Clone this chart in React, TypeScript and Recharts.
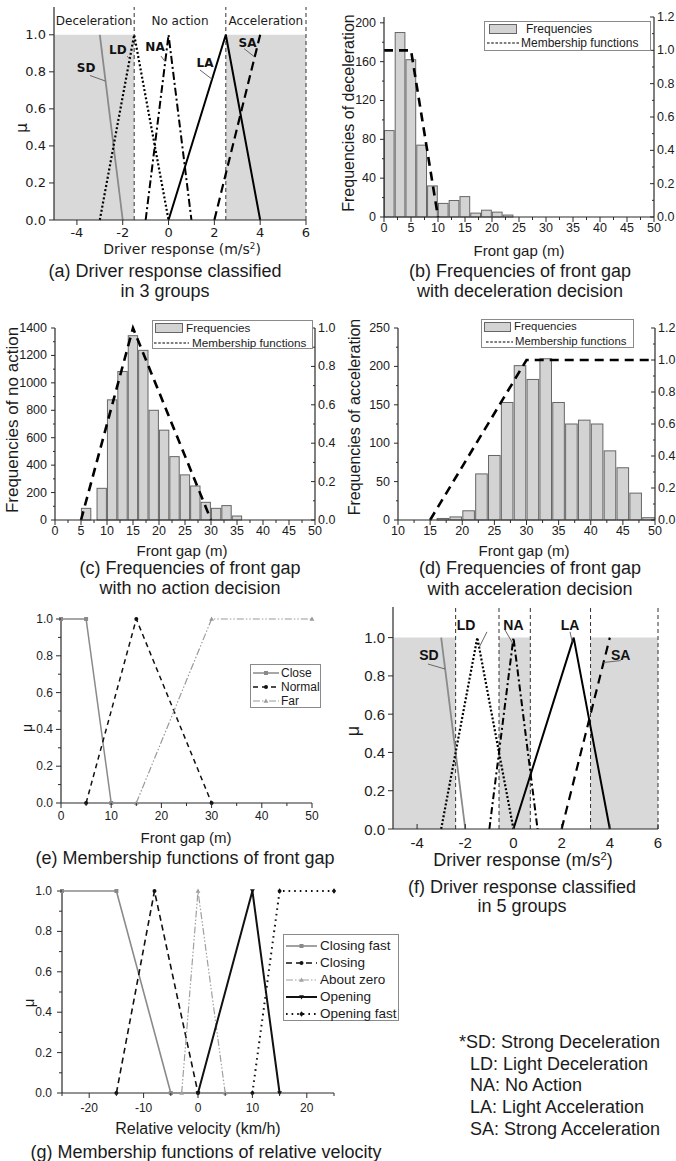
import React from "react";
import { ComposedChart, Line, Bar, XAxis, YAxis, ReferenceArea, ReferenceLine, ReferenceDot } from "recharts";

// ---------- values ----------
const responseTicks = [-4, -2, 0, 2, 4, 6];
const muTicks = [0, 0.2, 0.4, 0.6, 0.8, 1];
const muMinor = [0.1, 0.3, 0.5, 0.7, 0.9];

// driver response membership functions, (a) and (f)
const sdPoints = [[-3, 1], [-2, 0]];
const ldPoints = [[-3, 0], [-1.5, 1], [0, 0]];
const naPoints = [[-1, 0], [0, 1], [1, 0]];
const laPoints = [[0, 0], [2.5, 1], [4, 0]];
const saPoints = [[2, 0], [4, 1]];
const threeGroupNames = ["Deceleration", "No action", "Acceleration"];
const threeGroupEdges = [-5, -1.5, 2.5, 6];
const fiveGroupEdges = [-5, -2.4, -0.6, 0.7, 3.2, 6];

// histograms (b), (c), (d)
const gapTicks = [0, 5, 10, 15, 20, 25, 30, 35, 40, 45, 50];
const gapMinor = [2.5, 7.5, 12.5, 17.5, 22.5, 27.5, 32.5, 37.5, 42.5, 47.5];
const histLegendNames = ["Frequencies", "Membership functions"];
const rightMuTicks = [0, 0.2, 0.4, 0.6, 0.8, 1, 1.2];
const rightMuMinor = [0.1, 0.3, 0.5, 0.7, 0.9, 1.1];

const decelGap = [1, 3, 5, 7, 9, 11, 13, 15, 17, 19, 21, 23];
const decelCount = [89, 190, 162, 74, 32, 14, 17, 21, 4, 7, 5, 2];
const decelTicks = [0, 40, 80, 120, 160, 200];
const decelMinor = [20, 60, 100, 140, 180];
const decelMf = [[0, 1], [5, 1], [10, 0]];

const noActionGap = [6, 9, 11, 13, 15, 17, 19, 21, 23, 25, 27, 29, 31, 33, 35];
const noActionCount = [85, 231, 876, 1083, 1344, 1237, 800, 655, 462, 329, 248, 129, 85, 105, 29];
const noActionTicks = [0, 200, 400, 600, 800, 1000, 1200, 1400];
const noActionMinor = [100, 300, 500, 700, 900, 1100, 1300];
const noActionMf = [[5, 0], [15, 1], [30, 0]];

const accelGapTicks = [10, 15, 20, 25, 30, 35, 40, 45, 50];
const accelGapMinor = [12.5, 17.5, 22.5, 27.5, 32.5, 37.5, 42.5, 47.5];
const accelGap = [17, 19, 21, 23, 25, 27, 29, 31, 33, 35, 37, 39, 41, 43, 45, 47, 49];
const accelCount = [2, 4, 12, 60, 84, 153, 201, 183, 210, 153, 125, 130, 125, 90, 68, 35, 3];
const accelTicks = [0, 50, 100, 150, 200, 250];
const accelMinor = [25, 75, 125, 175, 225];
const accelMf = [[15, 0], [30, 1], [50, 1]];

// front gap membership functions (e)
const gapSetTicks = [0, 10, 20, 30, 40, 50];
const gapSetMinor = [5, 15, 25, 35, 45];
const gapSetNames = ["Close", "Normal", "Far"];
const closePoints = [[0, 1], [5, 1], [10, 0]];
const normalPoints = [[5, 0], [15, 1], [30, 0]];
const farPoints = [[15, 0], [30, 1], [50, 1]];

// relative velocity membership functions (g)
const velocityTicks = [-20, -10, 0, 10, 20];
const velocityMinor = [-25, -15, -5, 5, 15, 25];
const velocitySetNames = ["Closing fast", "Closing", "About zero", "Opening", "Opening fast"];
const closingFastPoints = [[-25, 1], [-15, 1], [-5, 0]];
const closingPoints = [[-15, 0], [-8, 1], [0, 0]];
const aboutZeroPoints = [[-3, 0], [0, 1], [5, 0]];
const openingPoints = [[0, 0], [10, 1], [15, 0]];
const openingFastPoints = [[10, 0], [15, 1], [25, 1]];

const abbreviations = [
  "*SD: Strong Deceleration",
  "LD: Light Deceleration",
  "NA: No Action",
  "LA: Light Acceleration",
  "SA: Strong Acceleration",
];

// ---------- styling ----------
const ARIAL = '"Liberation Sans", Arial, sans-serif';
const DEJAVU = '"DejaVu Sans", Verdana, sans-serif';
const INK = "#1b1b1b";
const AXIS_INK = "#2a2a2a";
const SHADE = "#d9d9d9";
const BAR_FILL = "#d3d3d3";
const BAR_EDGE = "#666";
const AXIS = { stroke: AXIS_INK, strokeWidth: 1.2 };

const xy = (pts: number[][]) => pts.map(([x, y]) => ({ x, y }));
const merge = (a: number[], b: number[]) => [...a, ...b].sort((p, q) => p - q);

type Box = { x0: number; x1: number; y0: number; y1: number; l: number; r: number; t: number; b: number };
const place = (k: Box) => ({
  left: k.x0 - k.l,
  top: k.y0 - k.t,
  width: k.x1 - k.x0 + k.l + k.r,
  height: k.y1 - k.y0 + k.t + k.b,
});

type TickCfg = {
  side: "bottom" | "left" | "right";
  major: number[];
  digits?: number;
  font?: string;
  size: number;
  gap: number;
  len?: number;
  minorLen?: number;
  inward?: boolean;
};

// draws the tick mark itself plus the label, minor ticks get no label
function tickMaker(c: TickCfg) {
  return (p: any) => {
    const v = Number(p.payload?.value);
    const isMajor = c.major.some((m) => Math.abs(m - v) < 1e-6);
    const len = isMajor ? c.len ?? 5 : c.minorLen ?? 3;
    const s = c.inward ? -1 : 1;
    const label = isMajor ? (c.digits != null ? v.toFixed(c.digits) : String(v)) : "";
    const txt = { fontFamily: c.font ?? ARIAL, fontSize: c.size, fill: INK };
    if (c.side === "bottom") {
      return (
        <g>
          <line x1={p.x} y1={p.y} x2={p.x} y2={p.y + s * len} stroke={AXIS_INK} strokeWidth={1} />
          {label && (
            <text x={p.x} y={p.y + c.gap} textAnchor="middle" dominantBaseline="central" {...txt}>
              {label}
            </text>
          )}
        </g>
      );
    }
    const dir = c.side === "left" ? -1 : 1;
    return (
      <g>
        <line x1={p.x} y1={p.y} x2={p.x + dir * s * len} y2={p.y} stroke={AXIS_INK} strokeWidth={1} />
        {label && (
          <text
            x={p.x + dir * c.gap}
            y={p.y}
            textAnchor={c.side === "left" ? "end" : "start"}
            dominantBaseline="central"
            {...txt}
          >
            {label}
          </text>
        )}
      </g>
    );
  };
}

function Txt({ x, y, size, children, font = ARIAL, align = "center", rotate = false, weight = 400 }: any) {
  const shift = align === "center" ? "-50%" : align === "right" ? "-100%" : "0%";
  return (
    <div
      style={{
        position: "absolute",
        left: x,
        top: y,
        transform: `translate(${shift}, -50%)${rotate ? " rotate(-90deg)" : ""}`,
        fontSize: size,
        fontFamily: font,
        fontWeight: weight,
        color: INK,
        whiteSpace: "nowrap",
        lineHeight: 1,
      }}
    >
      {children}
    </div>
  );
}

function Marker({ cx, cy, shape, color }: any) {
  if (cx == null || cy == null || Number.isNaN(cx)) return null;
  const s = 2;
  if (shape === "square") return <rect x={cx - s} y={cy - s} width={2 * s} height={2 * s} fill={color} />;
  if (shape === "circle") return <circle cx={cx} cy={cy} r={s} fill={color} />;
  if (shape === "up") return <path d={`M${cx} ${cy - 2.6}L${cx + 2.4} ${cy + 1.8}L${cx - 2.4} ${cy + 1.8}Z`} fill={color} />;
  if (shape === "down") return <path d={`M${cx} ${cy + 2.6}L${cx + 2.4} ${cy - 1.8}L${cx - 2.4} ${cy - 1.8}Z`} fill={color} />;
  return <path d={`M${cx} ${cy - 2.8}L${cx + 2.2} ${cy}L${cx} ${cy + 2.8}L${cx - 2.2} ${cy}Z`} fill={color} />;
}

// ---------- (a) / (f) driver response ----------
type Note = { text: string; at: number[]; lead: number[] };

const notesA: Note[] = [
  { text: "SD", at: [-3.6, 0.82], lead: [-3.43, 0.78, -2.75, 0.75] },
  { text: "LD", at: [-2.21, 0.92], lead: [-1.81, 0.885, -1.7, 0.87] },
  { text: "NA", at: [-0.59, 0.935], lead: [-0.33, 0.885, -0.15, 0.855] },
  { text: "LA", at: [1.59, 0.85], lead: [1.37, 0.81, 1.9, 0.76] },
  { text: "SA", at: [3.45, 0.955], lead: [3.3, 0.925, 3.76, 0.88] },
];
const notesF: Note[] = [
  { text: "SD", at: [-3.51, 0.91], lead: [-3.55, 0.862, -2.84, 0.836] },
  { text: "LD", at: [-1.97, 1.066], lead: [-1.1, 1.03, -1.42, 0.95] },
  { text: "NA", at: [0.0, 1.066], lead: [-0.35, 1.04, -0.03, 0.97] },
  { text: "LA", at: [2.35, 1.066], lead: [2.35, 1.03, 2.44, 0.975] },
  { text: "SA", at: [4.45, 0.91], lead: [3.74, 0.87, 4.45, 0.88] },
];

function ResponsePanel({ box, top, edges, names, notes, tick, noteStyle, xInward, dash }: any) {
  const k = place(box);
  const spans = edges.slice(0, -1).map((e: number, i: number) => [e, edges[i + 1]]);
  return (
    <div style={{ position: "absolute", left: k.left, top: k.top }}>
      <ComposedChart width={k.width} height={k.height} margin={{ top: box.t, right: box.r, bottom: 0, left: 0 }}>
        {spans.map(([a, b]: number[], i: number) =>
          i % 2 === 0 ? (
            <ReferenceArea key={`s${i}`} x1={a} x2={b} y1={0} y2={1} fill={SHADE} fillOpacity={1} stroke="none" />
          ) : null
        )}
        {names &&
          spans.map(([a, b]: number[], i: number) => (
            <ReferenceArea
              key={`n${i}`}
              x1={a}
              x2={b}
              y1={1}
              y2={top}
              fill="none"
              stroke="none"
              label={{ value: names[i], position: "center", fill: INK, fontSize: 12, fontFamily: DEJAVU }}
            />
          ))}
        {edges.slice(1).map((e: number) => (
          <ReferenceLine key={`e${e}`} x={e} stroke="#333" strokeDasharray="4 3" strokeWidth={1} />
        ))}
        <XAxis
          type="number"
          dataKey="x"
          domain={[-5, 6]}
          ticks={responseTicks}
          interval={0}
          height={box.b}
          tickSize={0}
          tickMargin={0}
          tickLine={false}
          axisLine={AXIS}
          tick={tickMaker({ side: "bottom", major: responseTicks, font: tick.font, size: tick.size, gap: tick.gapX, inward: xInward })}
        />
        <YAxis
          type="number"
          domain={[0, top]}
          ticks={muTicks}
          interval={0}
          width={box.l}
          tickSize={0}
          tickMargin={0}
          tickLine={false}
          axisLine={AXIS}
          tick={tickMaker({ side: "left", major: muTicks, digits: 1, font: tick.font, size: tick.size, gap: tick.gapY })}
        />
        <Line data={xy(sdPoints)} dataKey="y" type="linear" stroke="#8a8a8a" strokeWidth={1.8} dot={false} isAnimationActive={false} />
        <Line data={xy(ldPoints)} dataKey="y" type="linear" stroke="#000" strokeWidth={2.2} strokeDasharray={dash.ld} dot={false} isAnimationActive={false} />
        <Line data={xy(naPoints)} dataKey="y" type="linear" stroke="#000" strokeWidth={2} strokeDasharray={dash.na} dot={false} isAnimationActive={false} />
        <Line data={xy(laPoints)} dataKey="y" type="linear" stroke="#000" strokeWidth={2} dot={false} isAnimationActive={false} />
        <Line data={xy(saPoints)} dataKey="y" type="linear" stroke="#000" strokeWidth={2.2} strokeDasharray={dash.sa} dot={false} isAnimationActive={false} />
        {notes.map((n: Note) => (
          <ReferenceLine
            key={`l${n.text}`}
            segment={[
              { x: n.lead[0], y: n.lead[1] },
              { x: n.lead[2], y: n.lead[3] },
            ]}
            stroke="#666"
            strokeWidth={1}
          />
        ))}
        {notes.map((n: Note) => (
          <ReferenceDot
            key={`d${n.text}`}
            x={n.at[0]}
            y={n.at[1]}
            r={0}
            fill="none"
            stroke="none"
            label={{ value: n.text, position: "center", fill: "#111", ...noteStyle }}
          />
        ))}
      </ComposedChart>
    </div>
  );
}

// ---------- (b) (c) (d) histograms ----------
// bar keeps the library's centre, width is the bin width (1.8 units) in pixels
const binShape = (w: number) => (p: any) =>
  (
    <rect
      x={p.x + p.width / 2 - w / 2}
      y={p.y}
      width={w}
      height={Math.max(p.height, 0)}
      fill={BAR_FILL}
      stroke={BAR_EDGE}
      strokeWidth={1}
    />
  );

function HistPanel({ box, gap, count, mf, xDomain, xMajor, xMinor, lTop, lMajor, lMinor, rTop, rMajor, rMinor }: any) {
  const k = place(box);
  const rows = gap.map((x: number, i: number) => ({ x, f: count[i] }));
  const barW = (1.8 * (box.x1 - box.x0)) / (xDomain[1] - xDomain[0]);
  return (
    <div style={{ position: "absolute", left: k.left, top: k.top }}>
      <ComposedChart width={k.width} height={k.height} data={rows} margin={{ top: box.t, right: 0, bottom: 0, left: 0 }}>
        <XAxis
          type="number"
          dataKey="x"
          domain={xDomain}
          ticks={merge(xMajor, xMinor)}
          interval={0}
          height={box.b}
          tickSize={0}
          tickMargin={0}
          tickLine={false}
          axisLine={AXIS}
          tick={tickMaker({ side: "bottom", major: xMajor, size: 12.5, gap: 11, len: 5, minorLen: 3 })}
        />
        <YAxis
          yAxisId="l"
          orientation="left"
          type="number"
          domain={[0, lTop]}
          ticks={merge(lMajor, lMinor)}
          interval={0}
          width={box.l}
          tickSize={0}
          tickMargin={0}
          tickLine={false}
          axisLine={AXIS}
          tick={tickMaker({ side: "left", major: lMajor, size: 12.5, gap: 8, len: 4, minorLen: 2 })}
        />
        <YAxis
          yAxisId="r"
          orientation="right"
          type="number"
          domain={[0, rTop]}
          ticks={merge(rMajor, rMinor)}
          interval={0}
          width={box.r}
          tickSize={0}
          tickMargin={0}
          tickLine={false}
          axisLine={AXIS}
          tick={tickMaker({ side: "right", major: rMajor, digits: 1, size: 12.5, gap: 3, len: 4, minorLen: 2, inward: true })}
        />
        <Bar yAxisId="l" dataKey="f" shape={binShape(barW)} fill={BAR_FILL} isAnimationActive={false} />
        <Line
          yAxisId="r"
          data={xy(mf)}
          dataKey="y"
          type="linear"
          stroke="#000"
          strokeWidth={2.6}
          strokeDasharray="9 6"
          dot={false}
          isAnimationActive={false}
        />
      </ComposedChart>
    </div>
  );
}

function HistLegend({ left, top, width, height, sw, tx1, ln, tx2, r1, r2, size = 12 }: any) {
  return (
    <div
      style={{
        position: "absolute",
        left,
        top,
        width,
        height,
        border: "1px solid #8a8a8a",
        background: "#fff",
        boxSizing: "border-box",
      }}
    >
      <div
        style={{
          position: "absolute",
          left: sw[0],
          top: r1 - 5,
          width: sw[1],
          height: 10,
          background: BAR_FILL,
          border: `1px solid ${BAR_EDGE}`,
          boxSizing: "border-box",
        }}
      />
      <Txt x={tx1} y={r1} size={size} align="left">
        {histLegendNames[0]}
      </Txt>
      <svg style={{ position: "absolute", left: ln[0], top: r2 - 2 }} width={ln[1] - ln[0]} height={4}>
        <line x1={0} y1={2} x2={ln[1] - ln[0]} y2={2} stroke="#000" strokeWidth={1.1} strokeDasharray="2.6 1.6" />
      </svg>
      <Txt x={tx2} y={r2} size={size} align="left">
        {histLegendNames[1]}
      </Txt>
    </div>
  );
}

// ---------- (e) (g) membership functions ----------
type Series = { name: string; pts: number[][]; stroke: string; width: number; dash?: string; shape: string; mark: string };

const gapSeries: Series[] = [
  { name: gapSetNames[0], pts: closePoints, stroke: "#8a8a8a", width: 1.5, shape: "square", mark: "#8a8a8a" },
  { name: gapSetNames[1], pts: normalPoints, stroke: "#111", width: 1.5, dash: "5 4", shape: "circle", mark: "#111" },
  { name: gapSetNames[2], pts: farPoints, stroke: "#9a9a9a", width: 1.2, dash: "7 2 1.5 2 1.5 2", shape: "up", mark: "#9a9a9a" },
];

const velocitySeries: Series[] = [
  { name: velocitySetNames[0], pts: closingFastPoints, stroke: "#8a8a8a", width: 1.6, shape: "square", mark: "#8a8a8a" },
  { name: velocitySetNames[1], pts: closingPoints, stroke: "#111", width: 1.6, dash: "6 4", shape: "circle", mark: "#111" },
  { name: velocitySetNames[2], pts: aboutZeroPoints, stroke: "#a0a0a0", width: 1.2, dash: "7 2 1.5 2 1.5 2", shape: "up", mark: "#a0a0a0" },
  { name: velocitySetNames[3], pts: openingPoints, stroke: "#111", width: 2, shape: "down", mark: "#111" },
  { name: velocitySetNames[4], pts: openingFastPoints, stroke: "#111", width: 2, dash: "1.6 4", shape: "diamond", mark: "#111" },
];

function MfPanel({ box, xDomain, xMajor, xMinor, series, xGap, yGap }: any) {
  const k = place(box);
  return (
    <div style={{ position: "absolute", left: k.left, top: k.top }}>
      <ComposedChart width={k.width} height={k.height} margin={{ top: box.t, right: box.r, bottom: 0, left: 0 }}>
        <XAxis
          type="number"
          dataKey="x"
          domain={xDomain}
          ticks={merge(xMajor, xMinor)}
          interval={0}
          height={box.b}
          tickSize={0}
          tickMargin={0}
          tickLine={false}
          axisLine={AXIS}
          tick={tickMaker({ side: "bottom", major: xMajor, size: 12, gap: xGap, len: 5, minorLen: 3 })}
        />
        <YAxis
          type="number"
          domain={[0, 1]}
          ticks={merge(muTicks, muMinor)}
          interval={0}
          width={box.l}
          tickSize={0}
          tickMargin={0}
          tickLine={false}
          axisLine={AXIS}
          tick={tickMaker({ side: "left", major: muTicks, digits: 1, size: 12, gap: yGap, len: 5, minorLen: 3 })}
        />
        {series.map((s: Series) => (
          <Line
            key={s.name}
            data={xy(s.pts)}
            dataKey="y"
            type="linear"
            stroke={s.stroke}
            strokeWidth={s.width}
            strokeDasharray={s.dash}
            dot={(p: any) => <Marker key={`${s.name}-${p.index}`} cx={p.cx} cy={p.cy} shape={s.shape} color={s.mark} />}
            isAnimationActive={false}
          />
        ))}
      </ComposedChart>
    </div>
  );
}

function MfLegend({ left, top, width, height, rows, sample, textX, size, series }: any) {
  return (
    <div
      style={{
        position: "absolute",
        left,
        top,
        width,
        height,
        border: "1px solid #8a8a8a",
        background: "#fff",
        boxSizing: "border-box",
      }}
    >
      {series.map((s: Series, i: number) => {
        const w = sample[1] - sample[0];
        return (
          <React.Fragment key={s.name}>
            <svg style={{ position: "absolute", left: sample[0], top: rows[i] - 5 }} width={w} height={10}>
              <line x1={0} y1={5} x2={w} y2={5} stroke={s.stroke} strokeWidth={s.width} strokeDasharray={s.dash} />
              <Marker cx={w / 2} cy={5} shape={s.shape} color={s.mark} />
            </svg>
            <Txt x={textX} y={rows[i]} size={size} align="left">
              {s.name}
            </Txt>
          </React.Fragment>
        );
      })}
    </div>
  );
}

// ---------- layout ----------
const boxA: Box = { x0: 54, x1: 306, y0: 7, y1: 220, l: 54, r: 14, t: 4, b: 26 };
const boxB: Box = { x0: 384, x1: 654, y0: 17, y1: 217, l: 40, r: 22, t: 8, b: 22 };
const boxC: Box = { x0: 55, x1: 315, y0: 328, y1: 520, l: 45, r: 22, t: 8, b: 22 };
const boxD: Box = { x0: 398, x1: 655, y0: 328, y1: 520, l: 40, r: 21, t: 8, b: 22 };
const boxE: Box = { x0: 61, x1: 312, y0: 619, y1: 803, l: 40, r: 14, t: 8, b: 24 };
const boxF: Box = { x0: 393, x1: 658, y0: 607, y1: 829, l: 40, r: 14, t: 4, b: 24 };
const boxG: Box = { x0: 62, x1: 334, y0: 891, y1: 1093, l: 40, r: 14, t: 8, b: 26 };

const sup2 = <sup style={{ fontSize: "0.62em", verticalAlign: "0.55em" }}>2</sup>;

export default function App() {
  return (
    <div
      style={{
        position: "absolute",
        left: 0,
        top: 0,
        width: 676,
        height: 1161,
        background: "#fff",
        overflow: "hidden",
        fontFamily: ARIAL,
      }}
    >
      {/* (a) */}
      <ResponsePanel
        box={boxA}
        top={1.15}
        edges={threeGroupEdges}
        names={threeGroupNames}
        notes={notesA}
        tick={{ font: DEJAVU, size: 13, gapX: 12, gapY: 8 }}
        noteStyle={{ fontSize: 12, fontWeight: "bold", fontFamily: DEJAVU }}
        dash={{ ld: "2 2.2", na: "8 3 2 3", sa: "9 5" }}
      />
      <Txt x={22} y={128} size={15} font={DEJAVU} rotate>
        μ
      </Txt>
      <Txt x={182} y={249} size={14} font={DEJAVU}>
        Driver response (m/s{sup2})
      </Txt>
      <Txt x={165} y={271} size={18}>
        (a) Driver response classified
      </Txt>
      <Txt x={165} y={291} size={18}>
        in 3 groups
      </Txt>

      {/* (b) */}
      <HistPanel
        box={boxB}
        gap={decelGap}
        count={decelCount}
        mf={decelMf}
        xDomain={[0, 50]}
        xMajor={gapTicks}
        xMinor={gapMinor}
        lTop={206}
        lMajor={decelTicks}
        lMinor={decelMinor}
        rTop={1.2}
        rMajor={rightMuTicks}
        rMinor={rightMuMinor}
      />
      <HistLegend left={484} top={21} width={167} height={30} sw={[4, 28]} tx1={41} ln={[2, 34]} tx2={36} r1={7} r2={21} />
      <Txt x={349} y={113} size={16} rotate>
        Frequencies of deceleration
      </Txt>
      <Txt x={519} y={250} size={15}>
        Front gap (m)
      </Txt>
      <Txt x={520} y={271} size={18}>
        (b) Frequencies of front gap
      </Txt>
      <Txt x={520} y={291} size={18}>
        with deceleration decision
      </Txt>

      {/* (c) */}
      <HistPanel
        box={boxC}
        gap={noActionGap}
        count={noActionCount}
        mf={noActionMf}
        xDomain={[0, 50]}
        xMajor={gapTicks}
        xMinor={gapMinor}
        lTop={1400}
        lMajor={noActionTicks}
        lMinor={noActionMinor}
        rTop={1}
        rMajor={muTicks}
        rMinor={muMinor}
      />
      <HistLegend left={152} top={320} width={161} height={29} sw={[2, 28]} tx1={33} ln={[1, 36]} tx2={39} r1={7} r2={22} size={11.7} />
      <Txt x={12} y={420} size={17} rotate>
        Frequencies of no action
      </Txt>
      <Txt x={182} y={550} size={15}>
        Front gap (m)
      </Txt>
      <Txt x={190} y={568} size={18}>
        (c) Frequencies of front gap
      </Txt>
      <Txt x={190} y={588} size={18}>
        with no action decision
      </Txt>

      {/* (d) */}
      <HistPanel
        box={boxD}
        gap={accelGap}
        count={accelCount}
        mf={accelMf}
        xDomain={[10, 50]}
        xMajor={accelGapTicks}
        xMinor={accelGapMinor}
        lTop={250}
        lMajor={accelTicks}
        lMinor={accelMinor}
        rTop={1.2}
        rMajor={rightMuTicks}
        rMinor={rightMuMinor}
      />
      <HistLegend left={481} top={319} width={153} height={29} sw={[2, 27]} tx1={32} ln={[4, 31]} tx2={33} r1={7} r2={22} size={11.4} />
      <Txt x={355} y={417} size={16} rotate>
        Frequencies of acceleration
      </Txt>
      <Txt x={524} y={550} size={15}>
        Front gap (m)
      </Txt>
      <Txt x={530} y={568} size={18}>
        (d) Frequencies of front gap
      </Txt>
      <Txt x={530} y={589} size={18}>
        with acceleration decision
      </Txt>

      {/* (e) */}
      <MfPanel box={boxE} xDomain={[0, 50]} xMajor={gapSetTicks} xMinor={gapSetMinor} series={gapSeries} xGap={13} yGap={8} />
      <MfLegend left={250} top={664} width={71} height={44} rows={[8, 22, 36]} sample={[2, 28]} textX={30} size={12} series={gapSeries} />
      <Txt x={27} y={728} size={14} rotate>
        μ
      </Txt>
      <Txt x={186} y={837} size={15}>
        Front gap (m)
      </Txt>
      <Txt x={185} y={858} size={18}>
        (e) Membership functions of front gap
      </Txt>

      {/* (f) */}
      <ResponsePanel
        box={boxF}
        top={1.16}
        edges={fiveGroupEdges}
        names={null}
        notes={notesF}
        tick={{ font: ARIAL, size: 15, gapX: 13, gapY: 8 }}
        noteStyle={{ fontSize: 14, fontWeight: "bold", fontFamily: ARIAL }}
        xInward
        dash={{ ld: "2 2", na: "7 3 2 3", sa: "9 6" }}
      />
      <Txt x={353} y={731} size={18} rotate>
        μ
      </Txt>
      <Txt x={523} y={860} size={18}>
        Driver response (m/s{sup2})
      </Txt>
      <Txt x={522} y={887} size={18}>
        (f) Driver response classified
      </Txt>
      <Txt x={522} y={906} size={18}>
        in 5 groups
      </Txt>

      {/* (g) */}
      <MfPanel box={boxG} xDomain={[-25, 25]} xMajor={velocityTicks} xMinor={velocityMinor} series={velocitySeries} xGap={15} yGap={10} />
      <MfLegend
        left={283}
        top={934}
        width={116}
        height={87}
        rows={[11, 28, 45, 62, 79]}
        sample={[2, 33]}
        textX={36}
        size={13.5}
        series={velocitySeries}
      />
      <Txt x={28} y={1003} size={15} rotate>
        μ
      </Txt>
      <Txt x={198} y={1129} size={16}>
        Relative velocity (km/h)
      </Txt>
      <Txt x={206} y={1152} size={18}>
        (g) Membership functions of relative velocity
      </Txt>

      {/* abbreviations */}
      {abbreviations.map((a, i) => (
        <Txt key={a} x={i === 0 ? 459 : 470} y={1042 + i * 21.7} size={18} align="left">
          {a}
        </Txt>
      ))}
    </div>
  );
}
